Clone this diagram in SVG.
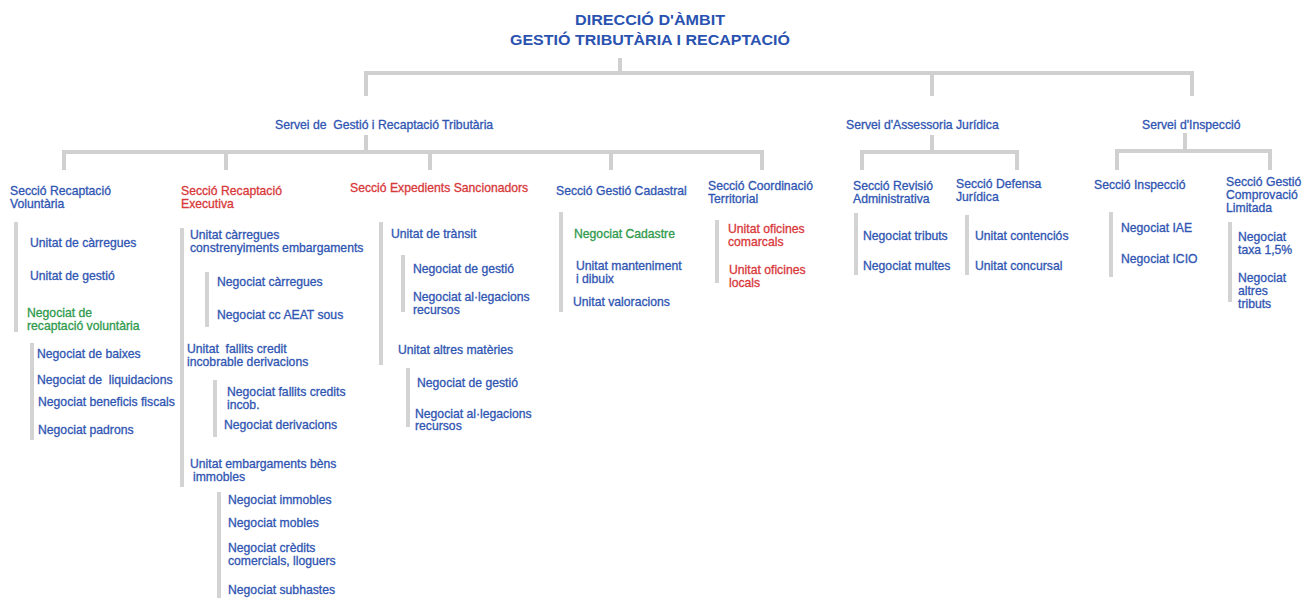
<svg xmlns="http://www.w3.org/2000/svg" width="1315" height="598" viewBox="0 0 1315 598">
<style>
text{font-family:"Liberation Sans",Arial,sans-serif;font-size:12.2px;stroke-width:0.3px;white-space:pre}
.b{fill:#2f55b2;stroke:#2f55b2}
.r{fill:#d8383a;stroke:#d8383a}
.g{fill:#2f9a4c;stroke:#2f9a4c}
.t{font-size:15px;font-weight:bold;fill:#2a52b0;stroke:none}
.ln{stroke:#d0d0d0;stroke-width:4;fill:none}
.bar{stroke:#d3d3d3;stroke-width:4;fill:none}
</style>
<rect width="1315" height="598" fill="#ffffff"/>
<g id="connectors">
<path class="ln" d="M620 58V73M366 96V73H1192V96M932 73V96"/>
<path class="ln" d="M366 135V152M64 170V152H762V170M226 152V170M430 152V170M611 152V170"/>
<path class="ln" d="M932 135V152M862 170V152H1017V170"/>
<path class="ln" d="M1185 133V151M1117 170V151H1270V170"/>
</g>
<g id="title"><text class="t" text-anchor="middle"><tspan x="650" y="25" textLength="150" lengthAdjust="spacingAndGlyphs">DIRECCIÓ D'ÀMBIT</tspan><tspan x="650" y="45" textLength="280" lengthAdjust="spacingAndGlyphs">GESTIÓ TRIBUTÀRIA I RECAPTACIÓ</tspan></text></g>
<g id="servei-gestio"><text class="b" x="275" y="129">Servei de  Gestió i Recaptació Tributària</text></g>
<g id="servei-assessoria"><text class="b" x="846" y="129">Servei d'Assessoria Jurídica</text></g>
<g id="servei-inspeccio"><text class="b" x="1142" y="129">Servei d'Inspecció</text></g>
<g id="col1">
<text class="b" x="10" y="195">Secció Recaptació<tspan x="10" y="208">Voluntària</tspan></text>
<path class="bar" d="M16 222V332"/>
<text class="b" x="30" y="247">Unitat de càrregues</text>
<text class="b" x="30" y="280">Unitat de gestió</text>
<text class="g" x="27" y="317">Negociat de<tspan x="27" y="330">recaptació voluntària</tspan></text>
<path class="bar" d="M32 343V440"/>
<text class="b" x="37" y="358">Negociat de baixes</text>
<text class="b" x="37" y="384">Negociat de  liquidacions</text>
<text class="b" x="38" y="406">Negociat beneficis fiscals</text>
<text class="b" x="38" y="434">Negociat padrons</text>
</g>
<g id="col2">
<text class="r" x="181" y="195">Secció Recaptació<tspan x="181" y="208">Executiva</tspan></text>
<path class="bar" d="M182 228V487"/>
<text class="b" x="190" y="239">Unitat càrregues<tspan x="190" y="252">constrenyiments embargaments</tspan></text>
<path class="bar" d="M207 272V327"/>
<text class="b" x="217" y="286">Negociat càrregues</text>
<text class="b" x="217" y="319">Negociat cc AEAT sous</text>
<text class="b" x="187" y="353">Unitat  fallits credit<tspan x="187" y="366">incobrable derivacions</tspan></text>
<path class="bar" d="M215 380V437"/>
<text class="b" x="227" y="396">Negociat fallits credits<tspan x="227" y="409">incob.</tspan></text>
<text class="b" x="224" y="429">Negociat derivacions</text>
<text class="b" x="190" y="468">Unitat embargaments bèns<tspan x="193" y="481">immobles</tspan></text>
<path class="bar" d="M219 492V598"/>
<text class="b" x="228" y="504">Negociat immobles</text>
<text class="b" x="228" y="527">Negociat mobles</text>
<text class="b" x="228" y="552">Negociat crèdits<tspan x="228" y="565">comercials, lloguers</tspan></text>
<text class="b" x="228" y="594">Negociat subhastes</text>
</g>
<g id="col3">
<text class="r" x="350" y="192">Secció Expedients Sancionadors</text>
<path class="bar" d="M381 222V365"/>
<text class="b" x="391" y="238">Unitat de trànsit</text>
<path class="bar" d="M403 255V312"/>
<text class="b" x="413" y="273">Negociat de gestió</text>
<text class="b" x="413" y="301">Negociat al·legacions<tspan x="413" y="314">recursos</tspan></text>
<text class="b" x="398" y="354">Unitat altres matèries</text>
<path class="bar" d="M408 368V427"/>
<text class="b" x="417" y="387">Negociat de gestió</text>
<text class="b" x="415" y="418">Negociat al·legacions<tspan x="415" y="430">recursos</tspan></text>
</g>
<g id="col4">
<text class="b" x="556" y="195">Secció Gestió Cadastral</text>
<path class="bar" d="M561 212V312"/>
<text class="g" x="574" y="238">Negociat Cadastre</text>
<text class="b" x="576" y="270">Unitat manteniment<tspan x="576" y="283">i dibuix</tspan></text>
<text class="b" x="573" y="306">Unitat valoracions</text>
</g>
<g id="col5">
<text class="b" x="708" y="190">Secció Coordinació<tspan x="708" y="203">Territorial</tspan></text>
<path class="bar" d="M717 220V283"/>
<text class="r" x="728" y="233">Unitat oficines<tspan x="728" y="246">comarcals</tspan></text>
<text class="r" x="729" y="274">Unitat oficines<tspan x="729" y="287">locals</tspan></text>
</g>
<g id="col6">
<text class="b" x="853" y="190">Secció Revisió<tspan x="853" y="203">Administrativa</tspan></text>
<path class="bar" d="M856 213V275"/>
<text class="b" x="863" y="240">Negociat tributs</text>
<text class="b" x="863" y="270">Negociat multes</text>
</g>
<g id="col7">
<text class="b" x="956" y="188">Secció Defensa<tspan x="956" y="201">Jurídica</tspan></text>
<path class="bar" d="M967 215V275"/>
<text class="b" x="975" y="240">Unitat contenciós</text>
<text class="b" x="975" y="270">Unitat concursal</text>
</g>
<g id="col8">
<text class="b" x="1094" y="189">Secció Inspecció</text>
<path class="bar" d="M1111 212V277"/>
<text class="b" x="1121" y="232">Negociat IAE</text>
<text class="b" x="1121" y="263">Negociat ICIO</text>
</g>
<g id="col9">
<text class="b" x="1226" y="186">Secció Gestió<tspan x="1226" y="199">Comprovació</tspan><tspan x="1226" y="212">Limitada</tspan></text>
<path class="bar" d="M1230 222V302"/>
<text class="b" x="1238" y="241">Negociat<tspan x="1238" y="254">taxa 1,5%</tspan></text>
<text class="b" x="1238" y="282">Negociat<tspan x="1238" y="295">altres</tspan><tspan x="1238" y="308">tributs</tspan></text>
</g>
</svg>
